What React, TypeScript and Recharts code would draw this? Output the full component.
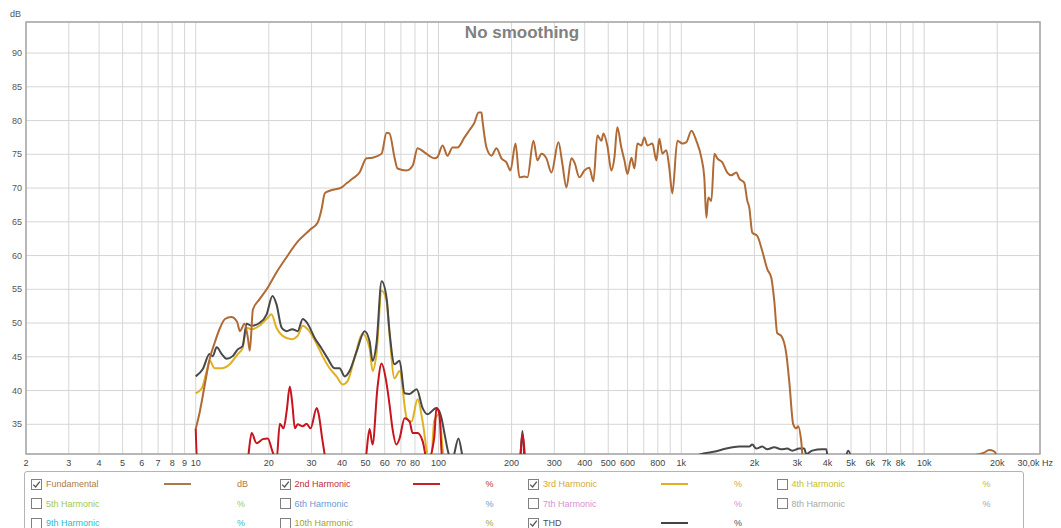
import React from 'react';
import { LineChart, Line, XAxis, YAxis, CartesianGrid, ReferenceArea } from 'recharts';

// ---------- data (Hz, dB) ----------
const fundamentalHz = [10, 10.4, 10.9, 11.4, 12.0, 12.6, 13.2, 14.0, 14.8, 15.2, 15.9, 16.4, 16.7, 17.2, 18.3, 19.6, 21.5, 23.5, 26.5, 29.5, 31.8, 33.0, 34.0, 35.6, 39.9, 41.8, 44.3, 47.3, 50.5, 53.5, 58.3, 61.1, 62.8, 65.9, 67.8, 73.8, 78.2, 82, 87.5, 96.3, 99, 103.9, 108.9, 114.2, 119.8, 127.9, 134.2, 140.6, 146.1, 150.3, 151.7, 157.6, 165.2, 173.3, 181.6, 190.4, 197.8, 207.5, 215.4, 225.9, 232.3, 246, 255.5, 265.4, 278.2, 291.7, 311.8, 323.6, 336.3, 352.5, 362.8, 380.3, 398.8, 418, 434.3, 451, 468.6, 477.5, 496.2, 515, 530, 545, 566, 583, 600, 623, 641, 659, 685, 704, 725, 760, 789, 812, 835, 867, 892, 918, 963, 1010, 1049, 1100, 1153, 1209, 1243, 1268, 1291, 1329, 1368, 1406, 1475, 1546, 1606, 1684, 1733, 1816, 1869, 1905, 1959, 2055, 2153, 2259, 2347, 2414, 2483, 2579, 2704, 2782, 2890, 2974, 3030, 3117, 3200, 15000, 15760, 17660, 18510, 19410, 19950, 20500];
const fundamentalDb = [34.3, 36.9, 40.9, 44.6, 47.2, 49.3, 50.6, 50.9, 50.2, 48.8, 49.9, 47.8, 45.9, 52.0, 53.5, 55.0, 57.5, 59.6, 62.2, 63.8, 64.9, 66.9, 69.2, 69.6, 70.1, 70.7, 71.4, 72.3, 74.4, 74.5, 75.1, 78.2, 78.1, 74.5, 72.9, 72.6, 73.3, 75.9, 75.3, 74.4, 74.6, 76.3, 74.8, 76.0, 76.0, 77.5, 78.6, 79.7, 81.2, 81.2, 80.0, 76.0, 74.8, 75.9, 74.4, 73.8, 72.6, 76.6, 71.6, 71.7, 71.6, 77.0, 74.1, 75.1, 74.4, 72.3, 76.8, 73.6, 70.1, 74.4, 73.8, 71.6, 72.6, 73.0, 71.0, 77.8, 77.0, 78.1, 76.2, 72.6, 74.5, 79.0, 76.0, 74.1, 72.1, 74.5, 72.9, 76.6, 76.3, 77.5, 76.3, 76.6, 74.1, 77.3, 75.1, 75.6, 73.0, 69.2, 77.0, 76.6, 76.8, 78.5, 77.0, 74.5, 71.6, 65.6, 68.6, 68.1, 75.1, 74.4, 73.8, 72.3, 71.9, 72.3, 71.4, 70.8, 68.1, 67.1, 63.4, 62.9, 60.7, 58.0, 56.7, 53.3, 48.5, 48.1, 45.5, 41.4, 35.0, 34.4, 34.7, 32.5, 28, 28, 30.3, 30.8, 31.2, 31.0, 30.2, 28];

const secondHz = [10.0, 10.15, 16.2, 17.0, 17.8, 18.9, 19.8, 20.7, 21.5, 22.2, 23.0, 23.7, 24.4, 25.0, 25.6, 26.3, 27.6, 28.6, 29.7, 31.5, 32.1, 33.3, 34.9, 49.6, 52.0, 53.5, 56.0, 58.3, 60.6, 62.8, 64.6, 67.1, 69.1, 72.5, 76.0, 78.2, 82.0, 86.0, 90.0, 96, 98.0, 100.8, 103.9, 215, 221.6, 228];
const secondDb = [34.4, 29, 29, 33.7, 32.2, 32.8, 32.9, 31.0, 29.5, 35.1, 34.4, 37.0, 40.6, 38.0, 34.4, 35.0, 34.7, 35.1, 34.4, 37.4, 36.5, 32.5, 29, 29, 34.3, 32.0, 40.3, 44.0, 41.8, 38.0, 34.4, 32.0, 32.9, 35.9, 35.4, 33.7, 33.7, 32.5, 29.5, 33, 37.4, 36.5, 29, 29, 33.5, 29];

const thirdHz = [10.0, 10.58, 11.1, 11.42, 11.97, 12.8, 13.8, 14.9, 15.6, 16.2, 17.0, 18.3, 19.8, 20.5, 21.5, 22.8, 24.8, 26.3, 27.6, 28.9, 31.5, 33.3, 35.6, 38.0, 40.3, 42.2, 45.1, 48.6, 52.0, 53.5, 55.5, 58.3, 61.1, 62.8, 65.9, 69.1, 74.0, 77.4, 82.0, 86.0, 90.0, 93, 96, 100.8, 103.9, 106];
const thirdDb = [39.6, 40.3, 42.9, 44.4, 43.3, 43.3, 43.9, 45.4, 46.3, 49.3, 49.1, 49.6, 50.8, 51.3, 49.3, 48.1, 47.6, 48.1, 49.6, 49.1, 46.9, 45.1, 43.3, 42.1, 40.9, 41.4, 44.8, 48.4, 46.3, 42.9, 45.4, 54.8, 53.3, 48.4, 41.8, 42.9, 35.9, 35.4, 38.7, 35.4, 30.5, 29, 35.5, 36.5, 31.4, 29];

const thdHz = [10.0, 10.7, 11.4, 11.75, 12.2, 12.8, 13.4, 14.2, 14.9, 15.6, 16.2, 17.0, 18.3, 19.6, 20.7, 21.5, 22.6, 23.7, 25.0, 26.3, 27.6, 28.9, 30.9, 32.9, 34.9, 37.3, 39.1, 41.1, 43.0, 46.0, 49.6, 52.0, 53.5, 55.5, 58.3, 61.1, 62.8, 65.9, 69.1, 72.5, 76.0, 81.3, 86.0, 90.0, 98.0, 102.9, 106.0, 111.0, 114.2, 120.8, 125.6, 130, 215, 221.6, 228, 1100, 1186, 1393, 1531, 1733, 1905, 1959, 2035, 2153, 2259, 2414, 2579, 2729, 2863, 3059, 3208, 3268, 3460, 3803, 3952, 4050, 4650, 4863, 5100];
const thdDb = [42.1, 43.2, 45.4, 45.1, 46.4, 45.4, 44.7, 45.1, 46.1, 46.6, 49.9, 49.6, 50.0, 51.3, 54.0, 52.8, 49.3, 48.8, 49.1, 48.8, 50.6, 49.9, 47.8, 46.3, 44.8, 43.3, 43.3, 42.1, 42.9, 45.8, 48.8, 47.3, 44.4, 46.9, 56.2, 53.7, 48.8, 43.9, 44.4, 39.6, 39.5, 40.2, 37.4, 36.5, 37.4, 35.9, 33.5, 30.3, 30.0, 32.9, 30.2, 28, 28, 34.0, 28, 28, 30.5, 31.0, 31.4, 31.7, 31.7, 32.0, 31.4, 31.7, 31.3, 31.6, 31.3, 31.4, 31.1, 31.4, 31.4, 30.6, 31.1, 31.3, 31.3, 29, 29, 31.1, 29];

const xTicks = [2, 3, 4, 5, 6, 7, 8, 9, 10, 20, 30, 40, 50, 60, 70, 80, 90, 100, 200, 300, 400, 500, 600, 700, 800, 900, 1000, 2000, 3000, 4000, 5000, 6000, 7000, 8000, 9000, 10000, 20000, 30000];
const xUnlabelled = [90, 700, 900, 9000];
const yTicks = [35, 40, 45, 50, 55, 60, 65, 70, 75, 80, 85, 90];

const legendNames = ['Fundamental', '2nd Harmonic', '3rd Harmonic', '4th Harmonic', '5th Harmonic', '6th Harmonic', '7th Harmonic', '8th Harmonic', '9th Harmonic', '10th Harmonic', 'THD'];
const legendTextColors = ['#b07a45', '#c02a3a', '#d4a83a', '#c8c020', '#a0c850', '#6a9ad0', '#d890d8', '#a8a8a8', '#30b8d0', '#a8a030', '#505050'];
const legendLineColors = ['#a87c4a', '#c81e28', '#e0b020', '', '', '', '', '', '', '', '#454545'];
const legendUnits = ['dB', '%', '%', '%', '%', '%', '%', '%', '%', '%', '%'];
const legendChecked = [true, true, true, false, false, false, false, false, false, false, true];

const COLORS = {
  fundamental: '#b06a35',
  second: '#c8141e',
  third: '#e0b020',
  thd: '#484848',
};

const toPoints = (hz: number[], db: number[]) => hz.map((f, i) => ({ f, v: db[i] }));
const fundamentalPts = toPoints(fundamentalHz, fundamentalDb);
const secondPts = toPoints(secondHz, secondDb);
const thirdPts = toPoints(thirdHz, thirdDb);
const thdPts = toPoints(thdHz, thdDb);

const FONT = '"Liberation Sans", Arial, sans-serif';

const fmtX = (v: number) => {
  if (v === 30000) return '30,0k Hz';
  if (v >= 1000) return `${v / 1000}k`;
  return String(v);
};

const XTick = (props: any) => {
  const { x, y, payload } = props;
  const v = payload.value;
  if (xUnlabelled.includes(v)) return <g />;
  const last = v === 30000;
  return (
    <text x={x} y={y} dy="0.71em" dx={last ? 13 : 0} textAnchor={last ? 'end' : 'middle'} fontSize={9} fill="#444" fontFamily={FONT}>
      {fmtX(v)}
    </text>
  );
};

const Check = ({ checked }: { checked: boolean }) => (
  <svg width={11} height={11} style={{ position: 'absolute', left: 0, top: -5.5 }}>
    <rect x={0.5} y={0.5} width={10} height={10} fill="#fff" stroke="#808080" />
    {checked && <path d="M2.2 5.6 L4.6 8 L8.8 2.6" fill="none" stroke="#555" strokeWidth={1.3} />}
  </svg>
);

const LegendBox = () => {
  const colX = [6, 254.5, 503, 751.5];
  const rowY = [12, 31.5, 51];
  return (
    <div style={{ position: 'absolute', left: 24, top: 471, width: 998, height: 70, border: '1px solid #b4b4b4', borderRadius: 3, background: '#fff', fontFamily: FONT, fontSize: 9 }}>
      {legendNames.map((name, i) => {
        const col = i < 8 ? i % 4 : i - 8;
        const row = i < 4 ? 0 : i < 8 ? 1 : 2;
        return (
          <div key={name} style={{ position: 'absolute', left: colX[col], top: rowY[row], width: 240, height: 0 }}>
            <Check checked={legendChecked[i]} />
            <span style={{ position: 'absolute', left: 15, top: -6, lineHeight: '12px', color: legendTextColors[i], whiteSpace: 'nowrap' }}>{name}</span>
            {legendLineColors[i] && (
              <div style={{ position: 'absolute', left: 133, top: -1, width: 27, height: 2, background: legendLineColors[i] }} />
            )}
            <span style={{ position: 'absolute', left: 206, top: -6, lineHeight: '12px', color: legendTextColors[i] }}>{legendUnits[i]}</span>
          </div>
        );
      })}
    </div>
  );
};

export default function App() {
  return (
    <div style={{ position: 'absolute', left: 0, top: 0, width: 1061, height: 528, overflow: 'hidden', background: '#fff', fontFamily: FONT }}>
      <LineChart width={1061} height={470} margin={{ top: 22, right: 21, left: 0, bottom: 0 }}>
        <CartesianGrid stroke="#d6d6d6" strokeWidth={1} />
        <XAxis
          dataKey="f"
          type="number"
          scale="log"
          domain={[2, 30000]}
          allowDataOverflow
          ticks={xTicks}
          interval={0}
          height={16}
          tickSize={0}
          tickMargin={6}
          axisLine={false}
          tickLine={false}
          tick={<XTick />}
        />
        <YAxis
          type="number"
          domain={[30.6, 94.6]}
          allowDataOverflow
          ticks={yTicks}
          interval={0}
          width={26}
          tickSize={0}
          tickMargin={4}
          axisLine={false}
          tickLine={false}
          tick={{ fontSize: 9, fill: '#555', fontFamily: FONT }}
        />
        <Line data={thirdPts} dataKey="v" type="monotone" stroke={COLORS.third} strokeWidth={2} dot={false} activeDot={false} isAnimationActive={false} />
        <Line data={thdPts} dataKey="v" type="monotone" stroke={COLORS.thd} strokeWidth={2} dot={false} activeDot={false} isAnimationActive={false} />
        <Line data={secondPts} dataKey="v" type="monotone" stroke={COLORS.second} strokeWidth={2} dot={false} activeDot={false} isAnimationActive={false} />
        <Line data={fundamentalPts} dataKey="v" type="monotone" stroke={COLORS.fundamental} strokeWidth={2} dot={false} activeDot={false} isAnimationActive={false} />
        <ReferenceArea x1={2} x2={30000} y1={30.6} y2={94.6} fill="none" stroke="#a6a6a6" strokeWidth={1.5} />
      </LineChart>
      <div style={{ position: 'absolute', left: 10, top: 9, fontSize: 9, color: '#555' }}>dB</div>
      <div style={{ position: 'absolute', left: 422, top: 23, width: 200, textAlign: 'center', fontSize: 17, fontWeight: 'bold', color: '#808080', lineHeight: '20px' }}>
        No smoothing
      </div>
      <LegendBox />
    </div>
  );
}
